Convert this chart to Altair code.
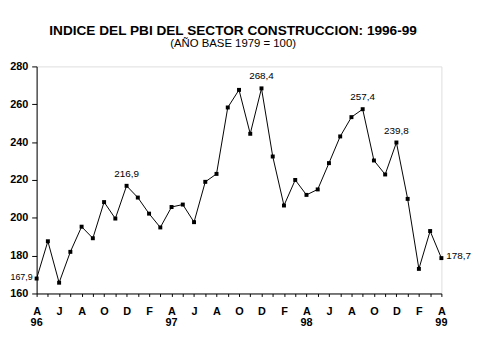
import altair as alt
import pandas as pd

# Monthly index, Apr-1996 .. Apr-1999
values = [167.9, 187.6, 165.7, 182.0, 195.3, 189.2, 208.3, 199.6, 216.9, 210.7,
          202.2, 194.9, 205.7, 207.0, 197.7, 219.0, 223.2, 258.3, 267.6, 244.4,
          268.4, 232.4, 206.5, 220.0, 212.1, 215.0, 228.9, 243.0, 253.2, 257.4,
          230.3, 222.9, 239.8, 210.0, 173.0, 193.0, 178.7]
month_idx = list(range(len(values)))
x_tick_labels = ["A", "J", "A", "O", "D", "F", "A", "J", "A", "O", "D", "F",
                 "A", "J", "A", "O", "D", "F", "A"]
year_labels = ["96", "97", "98", "99"]
year_idx = [0, 12, 24, 36]
y_ticks = [160, 180, 200, 220, 240, 260, 280]
labels_above = [8, 20, 29, 32]
labels_left = [0]
labels_right = [36]

FONT = "Liberation Sans"
W, H = 410, 230

df = pd.DataFrame({"m": month_idx, "v": values})
df["lab"] = [f"{v:.1f}".replace(".", ",") for v in values]

js_arr = "[" + ",".join(f"'{t}'" for t in x_tick_labels) + "]"
label_expr = f"datum.value % 2 == 0 ? {js_arr}[datum.value / 2] : ''"

x = alt.X("m:Q",
          scale=alt.Scale(domain=[0, 36], nice=False, zero=False),
          axis=alt.Axis(values=month_idx, labelExpr=label_expr, title=None,
                        grid=False, tickSize=3, labelPadding=9,
                        labelFontWeight="bold", labelFontSize=11,
                        labelColor="black", tickColor="black",
                        domainColor="black", labelFont=FONT,
                        labelOverlap=False, labelFlush=False))
y = alt.Y("v:Q",
          scale=alt.Scale(domain=[160, 280], nice=False, zero=False),
          axis=alt.Axis(values=y_ticks, title=None, grid=False, tickSize=5,
                        labelPadding=4, labelFontWeight="bold",
                        labelFontSize=11, labelColor="black",
                        tickColor="black", domainColor="black",
                        labelFont=FONT))

base = alt.Chart(df)
line = base.mark_line(color="black", strokeWidth=1).encode(x=x, y=y)
pts = base.mark_square(size=16, color="black", opacity=1).encode(x=x, y=y)

above = base.transform_filter(
    alt.FieldOneOfPredicate(field="m", oneOf=labels_above)
).mark_text(baseline="bottom", dy=-7, fontSize=10, font=FONT,
            color="black").encode(x=x, y=y, text="lab:N")
left = base.transform_filter(
    alt.FieldOneOfPredicate(field="m", oneOf=labels_left)
).mark_text(align="right", baseline="middle", dx=-4, dy=-2, fontSize=9,
            font=FONT, color="black").encode(x=x, y=y, text="lab:N")
right = base.transform_filter(
    alt.FieldOneOfPredicate(field="m", oneOf=labels_right)
).mark_text(align="left", baseline="middle", dx=5, dy=-2, fontSize=10,
            font=FONT, color="black").encode(x=x, y=y, text="lab:N")

years = alt.Chart(pd.DataFrame({"m": year_idx, "t": year_labels})).mark_text(
    fontWeight="bold", fontSize=11, baseline="middle", font=FONT,
    color="black").encode(x=x, y=alt.value(H + 30), text="t:N")

chart = alt.layer(line, pts, above, left, right, years).properties(
    width=W, height=H,
    title=alt.Title("INDICE DEL PBI DEL SECTOR CONSTRUCCION: 1996-99",
                    subtitle="(AÑO BASE 1979 = 100)",
                    fontSize=13.8, fontWeight="bold", font=FONT, color="black",
                    subtitleFontSize=11.5, subtitleFont=FONT,
                    subtitleColor="black", subtitlePadding=1,
                    offset=11, dx=-6, anchor="middle"),
    autosize=alt.AutoSizeParams(type="none"),
    padding={"left": 29, "top": 57, "right": 30, "bottom": 50},
).configure_view(stroke="black", strokeWidth=1).configure(background="white")

chart.save("out.html", embed_options={"renderer": "svg", "actions": False})
